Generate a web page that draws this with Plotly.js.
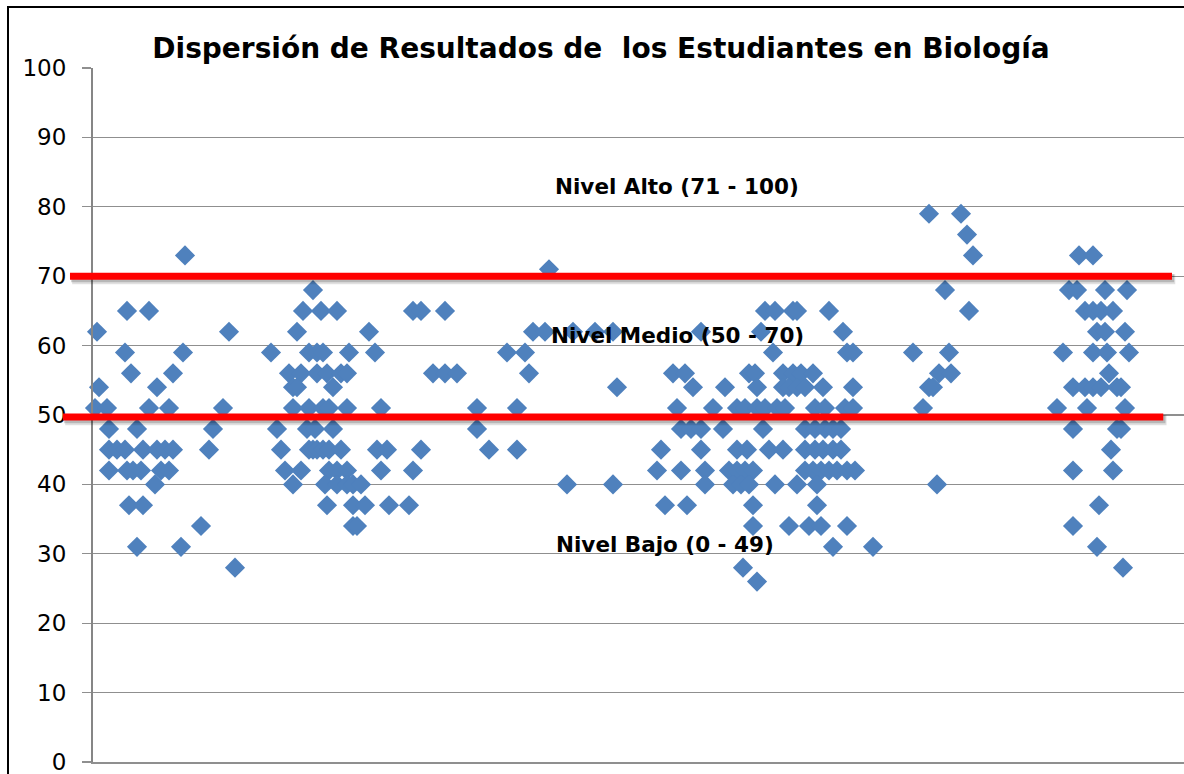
<!DOCTYPE html>
<html><head><meta charset="utf-8">
<script src="https://cdn.plot.ly/plotly-3.0.1.min.js"></script>
<style>html,body{margin:0;padding:0;background:#fff;overflow:hidden}#chart{width:1184px;height:774px}</style>
</head><body><div id="chart"></div>
<script>
// Student position (order) and score, grouped by cluster
const grupo1Pos  = [23, 8.5,14, 1,34, 8,22.5, 9.5,20, 1.5,16, 0.5,3.5,14,19,32.5, 4,11,30, 4,6,8,12.5,16,18,20,29, 4,8.5,10,12,17,19, 15.5, 9,12.5, 27, 11,22, 35.5];
const grupo1Nota = [73, 65,65, 62,62, 59,59, 56,56, 54,54, 51,51,51,51,51, 48,48,48, 45,45,45,45,45,45,45,45, 42,42,42,42,42,42, 40, 37,37, 34, 31,31, 28];

const grupo2Pos  = [55, 52.5,57,61,80,82, 51,69, 44.5,54,56,57.5,64,70.5, 49,52,56,58.5,62,63.5, 50,51,60, 50,54,57.5,59,63.5,72, 46,53.5,55.5,60, 47,54,55,56,57.5,59,62,71,73.5,82, 48,52,59,61,63.5,72,80, 50,58,61,63.5,65,67, 58.5,65,68,74,79, 65,66];
const grupo2Nota = [68, 65,65,65,65,65, 62,62, 59,59,59,59,59,59, 56,56,56,56,56,56, 54,54,54, 51,51,51,51,51,51, 48,48,48,48, 45,45,45,45,45,45,45,45,45,45, 42,42,42,42,42,42,42, 40,40,40,40,40,40, 37,37,37,37,37, 34,34];

const grupo3Pos  = [114, 88, 110,113,120,125.5,130, 103.5,108, 85,88,91,109, 131, 96,106, 96, 99,106, 118.5,130];
const grupo3Nota = [71, 65, 62,62,62,62,62, 59,59, 56,56,56,56, 54, 51,51, 48, 45,45, 40,40];

const grupo4Pos  = [168,170.5,175,176,184, 152,167,187.5, 170,188.5,190,
  145,148,164,165.5,172.5,175,177,180,
  150,158,166,172.5,174,176,178,182.5,190,
  146,155,161,163,166,168,171,173,180.5,183,188,190,
  147,149.5,152,157.5,167.5,178,180.5,183,185,187,
  142,152,161,163.5,169,172.5,178,180.5,182.5,185,187,
  141,147,153,159,161,163,165,178,180,182,184,186,188.5,190.5,
  153,160,162,164,170.5,176,181,
  143,148.5,165,181,
  165,174,179,182,188.5,
  185,195, 162.5, 166];
const grupo4Nota = [65,65,65,65,65, 62,62,62, 59,59,59,
  56,56,56,56,56,56,56,56,
  54,54,54,54,54,54,54,54,54,
  51,51,51,51,51,51,51,51,51,51,51,51,
  48,48,48,48,48,48,48,48,48,48,
  45,45,45,45,45,45,45,45,45,45,45,
  42,42,42,42,42,42,42,42,42,42,42,42,42,42,
  40,40,40,40,40,40,40,
  37,37,37,37,
  34,34,34,34,34,
  31,31, 28, 26];

const grupo5Pos  = [209,217, 218.5, 220, 213, 219, 205,214, 211.5,214.5, 209,210, 207.5, 211];
const grupo5Nota = [79,79, 76, 73, 68, 65, 59,59, 56,56, 54,54, 51, 40];

const grupo6Pos  = [246.5,250, 244,246,253,258.5, 248,250,252,255, 251,253,258, 242.5,250,253.5,259, 254, 245,248,250,252,256,257, 241,248.5,258, 245,256,257, 254.5, 245,255, 251.5, 245, 251, 257.5];
const grupo6Nota = [73,73, 68,68,68,68, 65,65,65,65, 62,62,62, 59,59,59,59, 56, 54,54,54,54,54,54, 51,51,51, 48,48,48, 45, 42,42, 37, 34, 31, 28];

const nivelAlto = 70;     // upper red line
const nivelBajo = 49.7;   // lower red line
const yTicks = [0,10,20,30,40,50,60,70,80,90,100];
const tituloTexto = 'Dispersión de Resultados de  los Estudiantes en Biología';
const etiquetasNivel = ['Nivel Alto (71 - 100)', 'Nivel Medio (50 - 70)', 'Nivel Bajo (0 - 49)'];
const etiquetasPos = [146, 146, 143];
const etiquetasNota = [82.9, 61.5, 31.3];

const xs = [].concat(grupo1Pos, grupo2Pos, grupo3Pos, grupo4Pos, grupo5Pos, grupo6Pos);
const ys = [].concat(grupo1Nota, grupo2Nota, grupo3Nota, grupo4Nota, grupo5Nota, grupo6Nota);

const trace = {
  x: xs, y: ys, type: 'scatter', mode: 'markers',
  marker: {symbol: 'diamond', size: 15.5, color: '#4F81BD', line: {width: 0}},
  hoverinfo: 'skip', showlegend: false, cliponaxis: false
};

const gridCol = '#8f8f8f';
function redLine(y, x0, x1) {
  return [
    {type:'line', xref:'paper', yref:'y', x0:x0+0.002, x1:x1+0.003, y0:y-0.45, y1:y-0.45,
     line:{color:'rgba(0,0,0,0.12)', width:10}, layer:'above'},
    {type:'line', xref:'paper', yref:'y', x0:x0+0.001, x1:x1+0.002, y0:y-0.3, y1:y-0.3,
     line:{color:'rgba(0,0,0,0.18)', width:8}, layer:'above'},
    {type:'line', xref:'paper', yref:'y', x0:x0, x1:x1, y0:y, y1:y,
     line:{color:'#FF0000', width:7}, layer:'above'}
  ];
}

const shapes = [].concat(
  redLine(nivelAlto, -0.0211, 0.989),
  redLine(nivelBajo, -0.0275, 0.981),
  [{type:'rect', xref:'paper', yref:'paper', x0:(8-93)/1091, x1:1.05, y0:-0.1, y1:(762-7)/694,
    line:{color:'#000', width:2}, fillcolor:'rgba(0,0,0,0)', layer:'above'}]
);

const annotations = etiquetasNivel.map((t, i) => ({
  text: '<b>' + t + '</b>', x: etiquetasPos[i], y: etiquetasNota[i], xref:'x', yref:'y',
  showarrow: false, font: {family:'DejaVu Sans', size: 21.5, color:'#000'},
  xanchor:'center', yanchor:'middle'
}));

const layout = {
  width: 1184, height: 774,
  margin: {l: 93, r: 0, t: 68, b: 12, pad: 0},
  paper_bgcolor: '#fff', plot_bgcolor: '#fff',
  title: {text: '<b>' + tituloTexto + '</b>', font: {family:'DejaVu Sans', size: 28, color:'#000'},
    xref:'container', yref:'container', x: 601/1184, y: 1 - 48/774, xanchor:'center', yanchor:'middle'},
  xaxis: {range: [0, 272.75], showgrid: false, zeroline: false, showticklabels: false,
    showline: true, linecolor: gridCol, linewidth: 1.5, ticks: ''},
  yaxis: {range: [0, 100], tickvals: yTicks, showgrid: true, gridcolor: gridCol, gridwidth: 1.3,
    zeroline: false, showline: true, linecolor: '#868686', linewidth: 2,
    ticks: 'outside', ticklen: 9, tickcolor: gridCol, tickwidth: 1.3,
    tickfont: {family:'DejaVu Sans', size: 23, color:'#000'}, ticklabelstandoff: 11,
    ticklabeloverflow: 'allow'},
  shapes: shapes,
  annotations: annotations
};

Plotly.newPlot('chart', [trace], layout, {staticPlot: true, displayModeBar: false});
</script></body></html>
